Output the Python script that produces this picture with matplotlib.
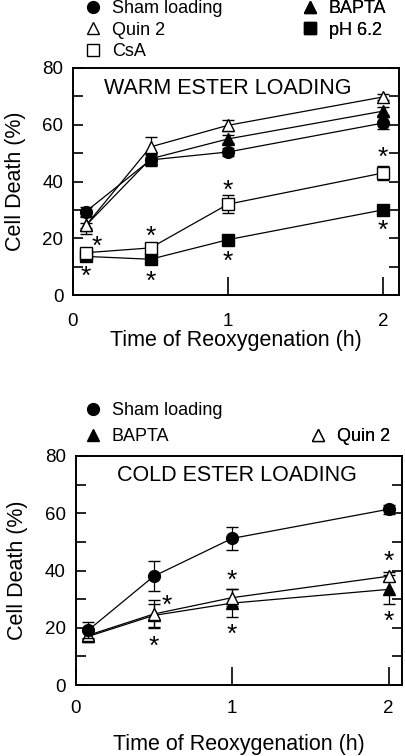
import matplotlib
matplotlib.use("Agg")
import matplotlib.pyplot as plt
from matplotlib.lines import Line2D

plt.rcParams['font.family'] = ['Liberation Sans', 'DejaVu Sans']

# ---------------- data ----------------
times = [0.083, 0.5, 1.0, 2.0]

# Warm ester loading
warm_sham = [29.4, 47.6, 50.4, 60.6]
warm_sham_err = [1.5, 2.0, 1.5, 2.0]
warm_bapta = [24.5, 48.0, 55.0, 64.8]
warm_bapta_err = [1.0, 1.5, 1.5, 1.5]
warm_quin = [24.5, 52.2, 59.8, 69.8]
warm_quin_err = [3.0, 3.5, 2.0, 1.2]
warm_csa = [14.9, 16.6, 32.0, 43.0]
warm_csa_err = [1.0, 1.0, 3.2, 2.5]
warm_ph = [13.6, 12.6, 19.5, 30.0]
warm_ph_err = [0.8, 0.8, 0.8, 0.8]
warm_star_x = [0.155, 0.083, 0.5, 0.5, 1.0, 1.0, 2.0, 2.0]
warm_star_y = [18.4, 7.8, 21.8, 6.0, 38.1, 13.0, 49.6, 24.1]

# Cold ester loading
cold_sham = [19.2, 38.0, 51.2, 61.4]
cold_sham_err = [2.9, 5.3, 4.0, 1.5]
cold_bapta = [17.0, 24.3, 28.6, 33.4]
cold_bapta_err = [2.0, 4.0, 5.0, 5.0]
cold_quin = [17.4, 24.8, 30.5, 38.0]
cold_quin_err = [1.5, 5.0, 3.0, 1.5]
cold_star_x = [0.586, 0.5, 1.0, 1.0, 2.0, 2.0]
cold_star_y = [29.1, 14.8, 37.8, 19.0, 44.6, 23.6]

yticks = [0, 20, 40, 60, 80]
xticks = [0, 1, 2]

W, H = 405, 756
fig = plt.figure(figsize=(W / 100, H / 100), dpi=100)

def px_ax(l, r, t, b):
    return [l / W, 1 - b / H, (r - l) / W, (b - t) / H]

ax1 = fig.add_axes(px_ax(73, 399, 68, 295))
ax2 = fig.add_axes(px_ax(75.5, 402, 456, 685))

ms = 8.5
lw = 0.9
star_fs = 19

def series(ax, y, err, marker, filled, z):
    fc = 'black' if filled else 'white'
    ax.errorbar(times, y, yerr=err, color='black', lw=lw, marker=marker,
                ms=ms, mfc=fc, mec='black', mew=1.0, capsize=4.5,
                elinewidth=lw, capthick=lw, zorder=z)

def stars(ax, xs, ys):
    for x, y in zip(xs, ys):
        ax.annotate('*', xy=(x, y), xytext=(0, -0.42 * star_fs),
                    textcoords='offset points', fontsize=star_fs,
                    ha='center', va='baseline')

def style(ax, xmax, xpad, xlabelpad):
    ax.set_xlim(0, xmax)
    ax.set_ylim(0, 80)
    ax.set_yticks(yticks)
    ax.set_yticks([10, 30, 50, 70], minor=True)
    ax.set_xticks(xticks)
    ax.tick_params(axis='y', which='both', direction='in', length=7, width=1.2,
                   right=True, labelsize=13.5, pad=7)
    ax.tick_params(axis='x', direction='in', length=13, width=1.2,
                   labelsize=13.5, pad=xpad)
    for s in ax.spines.values():
        s.set_linewidth(1.4)
    ax.set_xlabel('Time of Reoxygenation (h)', fontsize=15.5, labelpad=xlabelpad)
    ax.set_ylabel('Cell Death (%)', fontsize=15.5, labelpad=12)

# Warm panel
series(ax1, warm_ph, warm_ph_err, 's', True, 3)
series(ax1, warm_bapta, warm_bapta_err, '^', True, 3)
series(ax1, warm_sham, warm_sham_err, 'o', True, 4)
series(ax1, warm_csa, warm_csa_err, 's', False, 5)
series(ax1, warm_quin, warm_quin_err, '^', False, 5)
stars(ax1, warm_star_x, warm_star_y)
ax1.text(1.0, 72.8, 'WARM ESTER LOADING', fontsize=15.5, ha='center', va='center')
style(ax1, 2.103, 13, 0)

# Cold panel
series(ax2, cold_bapta, cold_bapta_err, '^', True, 3)
series(ax2, cold_quin, cold_quin_err, '^', False, 4)
series(ax2, cold_sham, cold_sham_err, 'o', True, 5)
stars(ax2, cold_star_x, cold_star_y)
ax2.text(1.03, 73.1, 'COLD ESTER LOADING', fontsize=15.5, ha='center', va='center')
style(ax2, 2.086, 11, 12)

# Legends
def h(marker, filled):
    return Line2D([], [], ls='none', marker=marker, ms=ms,
                  mfc='black' if filled else 'white', mec='black', mew=1.0)

def legend(ax, handles, labels, x, ytop, spacing):
    lg = ax.legend(handles, labels, loc='upper left',
                   bbox_to_anchor=(x / W, 1 - ytop / H),
                   bbox_transform=fig.transFigure, frameon=False,
                   fontsize=13, handlelength=1.0, handletextpad=0.55,
                   borderpad=0, borderaxespad=0, labelspacing=spacing)
    ax.add_artist(lg)

legend(ax1, [h('o', True), h('^', False), h('s', False)],
       ['Sham loading', 'Quin 2', 'CsA'], 84, 0, 0.25)
legend(ax1, [h('^', True), h('s', True)],
       ['BAPTA', 'pH 6.2'], 301, 0, 0.25)
legend(ax2, [h('o', True), h('^', True)],
       ['Sham loading', 'BAPTA'], 84, 402, 0.5)
legend(ax2, [h('^', False)], ['Quin 2'], 309, 428, 0.5)

fig.savefig('out.png', dpi=100)
